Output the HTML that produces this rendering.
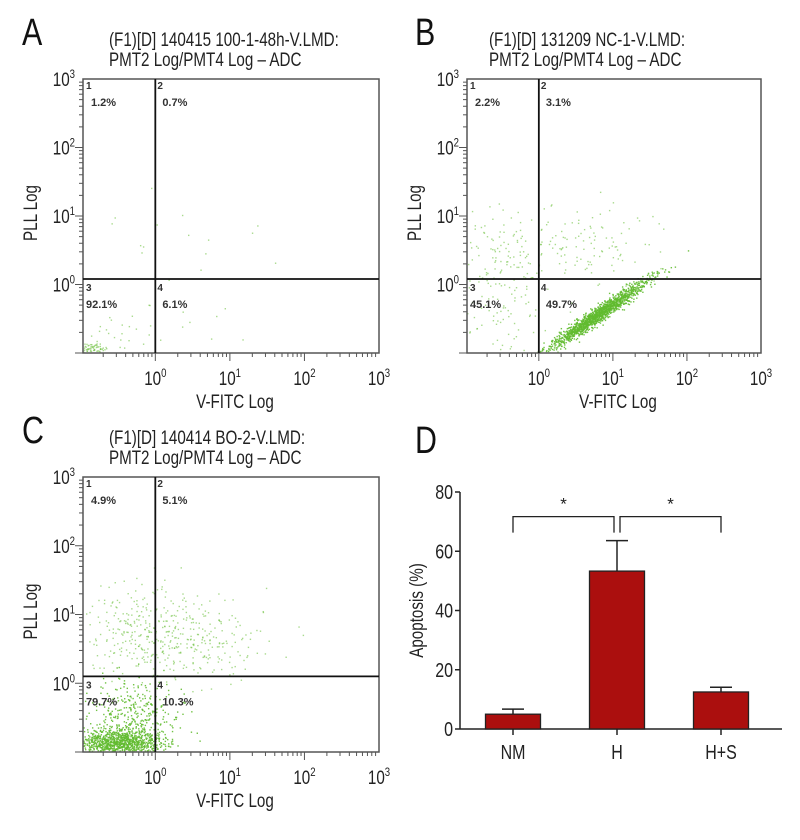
<!DOCTYPE html>
<html><head><meta charset="utf-8"><style>
html,body{margin:0;padding:0;background:#fff;}
svg{display:block;font-family:"Liberation Sans Narrow","Liberation Sans",sans-serif;}
</style></head><body>
<svg id="fig" width="800" height="840" viewBox="0 0 800 840" xmlns="http://www.w3.org/2000/svg"></svg>
<script>
// ---------- data ----------
const flowTitlesA = ["(F1)[D] 140415 100-1-48h-V.LMD:", "PMT2 Log/PMT4 Log – ADC"];
const flowTitlesB = ["(F1)[D] 131209 NC-1-V.LMD:", "PMT2 Log/PMT4 Log – ADC"];
const flowTitlesC = ["(F1)[D] 140414 BO-2-V.LMD:", "PMT2 Log/PMT4 Log – ADC"];
const quadPctA = ["1.2%", "0.7%", "92.1%", "6.1%"];
const quadPctB = ["2.2%", "3.1%", "45.1%", "49.7%"];
const quadPctC = ["4.9%", "5.1%", "79.7%", "10.3%"];
const decadeTicks = [0, 1, 2, 3];
// clusters: [logX center, logY center, sdX, sdY, count, rotation(deg)]
const clustersA = [[-0.85,-0.95,0.1,0.04,70,0],[-0.5,-0.7,0.3,0.2,25,0],[0.2,0.6,0.8,0.35,18,0],[0.4,-0.5,0.5,0.3,10,0]];
const clustersB = [[0.8,-0.45,0.42,0.05,1400,37],[-0.5,0.4,0.3,0.35,110,0],[0.6,0.55,0.5,0.3,120,0],[-0.5,-0.5,0.3,0.3,60,0]];
const clustersC = [[-0.5,-0.88,0.3,0.1,1000,0],[-0.3,-0.5,0.3,0.28,350,0],[-0.2,0.75,0.4,0.35,260,0],[0.6,0.6,0.45,0.3,200,0]];
const barCats = ["NM", "H", "H+S"];
const barVals = [5.0, 53.3, 12.5];
const barErr = [1.7, 10.3, 1.6];
const yTicksD = [0, 20, 40, 60, 80];

const NS = "http://www.w3.org/2000/svg";
const svg = document.getElementById("fig");
const SX = 0.8;
function el(tag, attrs, parent, text) {
  const e = document.createElementNS(NS, tag);
  for (const k in attrs) e.setAttribute(k, attrs[k]);
  if (text !== undefined) e.textContent = text;
  (parent || svg).appendChild(e);
  return e;
}
function ct(x, y, attrs, parent, text, rot) {
  const a = Object.assign({}, attrs);
  a.x = 0; a.y = 0;
  a.transform = `translate(${x},${y})` + (rot ? ` rotate(${rot})` : "") + ` scale(${SX},1)`;
  return el("text", a, parent, text);
}
function halton(i, b) { let f = 1, r = 0; while (i > 0) { f /= b; r += f * (i % b); i = Math.floor(i / b); } return r; }
function gauss(u, v) { u = Math.max(u, 1e-6); return Math.sqrt(-2 * Math.log(u)) * Math.cos(2 * Math.PI * v); }

function flow(o) {
  const g = el("g", {});
  
  
  const L = o.x0, R = o.x1, T = o.y0, B = o.y1;
  const xs = v => L + (v - o.xmin) / (3 - o.xmin) * (R - L);
  const ys = v => B - (v + 1) / 4 * (B - T);
  const lt = ct(o.letterX, o.y0 - 34, {"font-size": 38, fill: "#111"}, g, o.letter);
  
  
  o.titles.forEach((t, i) => {
    const tt = ct(o.titleX, o.y0 - 33 + i * 20, {"font-size": 19, fill: "#222"}, g, t);
    
    
  });
  const pts = el("g", {fill: "#62bb30"}, g);
  
  
  let idx = 1;
  o.clusters.forEach(c => {
    const a = c[5] * Math.PI / 180;
    for (let k = 0; k < c[4]; k++, idx++) {
      const gx = gauss(halton(idx, 2), halton(idx, 3)) * c[2];
      const gy = gauss(halton(idx, 5), halton(idx, 7)) * c[3];
      const lx = c[0] + gx * Math.cos(a) - gy * Math.sin(a);
      const ly = c[1] + gx * Math.sin(a) + gy * Math.cos(a);
      if (lx < o.xmin || lx > 3 || ly < -1 || ly > 3) continue;
      el("rect", {x: xs(lx), y: ys(ly) - 1.4, width: 1.4, height: 1.4, opacity: c[4] > 300 ? 0.9 : 0.55}, pts);
    }
  });
  const bx = el("rect", {x: L, y: T, width: R - L, height: B - T, fill: "none", stroke: "#555", "stroke-width": 1.5}, g);
  
  
  const gx = xs(0), gy = ys(o.gateY);
  el("line", {x1: gx, y1: T, x2: gx, y2: B, stroke: "#111", "stroke-width": 1.8}, g);
  el("line", {x1: L, y1: gy, x2: R, y2: gy, stroke: "#111", "stroke-width": 1.8}, g);
  const tk = el("g", {stroke: "#555", "stroke-width": 1}, g);
  
  
  for (let d = -1; d < 3; d++) for (let m = 1; m < 10; m++) {
    const lv = d + Math.log10(m);
    if (lv >= o.xmin - 0.001) el("line", {x1: xs(lv), y1: B, x2: xs(lv), y2: B + (m === 1 ? 8 : 4)}, tk);
    el("line", {x1: L - (m === 1 ? 8 : 4), y1: ys(lv), x2: L, y2: ys(lv)}, tk);
  }
  decadeTicks.forEach(d => {
    const t = ct(xs(d), B + 32, {"font-size": 19, "text-anchor": "middle", fill: "#222"}, g);
    
    
    el("tspan", {}, t, "10");
    el("tspan", {dy: -8, "font-size": 12}, t, String(d));
    const u = ct(L - 8, ys(d) + 7, {"font-size": 19, "text-anchor": "end", fill: "#222"}, g);
    
    
    el("tspan", {}, u, "10");
    el("tspan", {dy: -8, "font-size": 12}, u, String(d));
  });
  const xl = ct((L + R) / 2 + 4, B + 55, {"font-size": 19, "text-anchor": "middle", fill: "#222"}, g, "V-FITC Log");
  
  
  const yl = ct(L - 46, (T + B) / 2 - 3, {"font-size": 19, "text-anchor": "middle", fill: "#222"}, g, "PLL Log", -90);
  
  
  const qx = [L + 3, gx + 2, L + 3, gx + 2], qy = [T + 10, T + 10, gy + 12, gy + 12];
  o.pct.forEach((p, i) => {
    const n = el("text", {x: qx[i], y: qy[i], "font-size": 10, "font-weight": "bold", fill: "#333"}, g, String(i + 1));
    
    
    const t = el("text", {x: qx[i] + (i === 2 ? 0 : 5), y: qy[i] + 17, "font-size": 11, "font-weight": "bold", fill: "#333"}, g, p);
    
    
  });
}
flow({name: "panel-a", letter: "A", letterX: 22, titleX: 109, titles: flowTitlesA, x0: 83, x1: 379, y0: 79, y1: 353, xmin: -0.97, gateY: 0.08, pct: quadPctA, clusters: clustersA});
flow({name: "panel-b", letter: "B", letterX: 415, titleX: 489, titles: flowTitlesB, x0: 467, x1: 761, y0: 79, y1: 353, xmin: -0.97, gateY: 0.08, pct: quadPctB, clusters: clustersB});
flow({name: "panel-c", letter: "C", letterX: 22, titleX: 109, titles: flowTitlesC, x0: 83, x1: 379, y0: 477, y1: 752, xmin: -0.97, gateY: 0.1, pct: quadPctC, clusters: clustersC});

// ---------- panel D ----------
(function(){
  const g = el("g", {});
  
  
  const X0 = 460, X1 = 782, Y0 = 729, Y80 = 492;
  const y = v => Y0 - v / 80 * (Y0 - Y80);
  const xc = i => X0 + 53 + i * 104;
  const lt = ct(415, 453, {"font-size": 38, fill: "#111"}, g, "D");
  
  el("line", {x1: X0, y1: Y80, x2: X0, y2: Y0, stroke: "#222", "stroke-width": 1.5}, g);
  el("line", {x1: X0, y1: Y0, x2: X1, y2: Y0, stroke: "#222", "stroke-width": 1.5}, g);
  yTicksD.forEach(v => {
    el("line", {x1: X0 - 5, y1: y(v), x2: X0, y2: y(v), stroke: "#222", "stroke-width": 1.5}, g);
    const t = ct(X0 - 7, y(v) + 7, {"font-size": 20, "text-anchor": "end", fill: "#222"}, g, String(v));
    
    
  });
  const yt = ct(423, (Y0 + Y80) / 2, {"font-size": 19, "text-anchor": "middle", fill: "#222"}, g, "Apoptosis (%)", -90);
  
  
  barCats.forEach((c, i) => {
    const cx = xc(i), w = 55;
    el("line", {x1: cx, y1: y(barVals[i]), x2: cx, y2: y(barVals[i] + barErr[i]), stroke: "#222", "stroke-width": 1.5}, g);
    el("line", {x1: cx - 11, y1: y(barVals[i] + barErr[i]), x2: cx + 11, y2: y(barVals[i] + barErr[i]), stroke: "#222", "stroke-width": 1.5}, g);
    const b = el("rect", {x: cx - w / 2, y: y(barVals[i]), width: w, height: Y0 - y(barVals[i]), fill: "#ab0f0e", stroke: "#222", "stroke-width": 1.3}, g);
    
    
    el("line", {x1: cx, y1: Y0, x2: cx, y2: Y0 + 6, stroke: "#222", "stroke-width": 1.5}, g);
    const t = ct(cx, Y0 + 30, {"font-size": 20, "text-anchor": "middle", fill: "#222"}, g, c);
    
    
  });
  [[0, 1, -1], [1, 2, 1]].forEach(p => {
    const a = xc(p[0]), b = xc(p[1]);
    const x1 = p[2] < 0 ? a : a + 3, x2 = p[2] < 0 ? b - 3 : b;
    const path = el("path", {d: `M${x1},${y(66.3)} V${y(71.7)} H${x2} V${y(66.3)}`, fill: "none", stroke: "#222", "stroke-width": 1.3}, g);
    
    
    const s = el("text", {x: (x1 + x2) / 2, y: y(76.5) + 7, "font-size": 17, "text-anchor": "middle", fill: "#222"}, g, "*");
    
    
  });
})();
</script>
</body></html>
